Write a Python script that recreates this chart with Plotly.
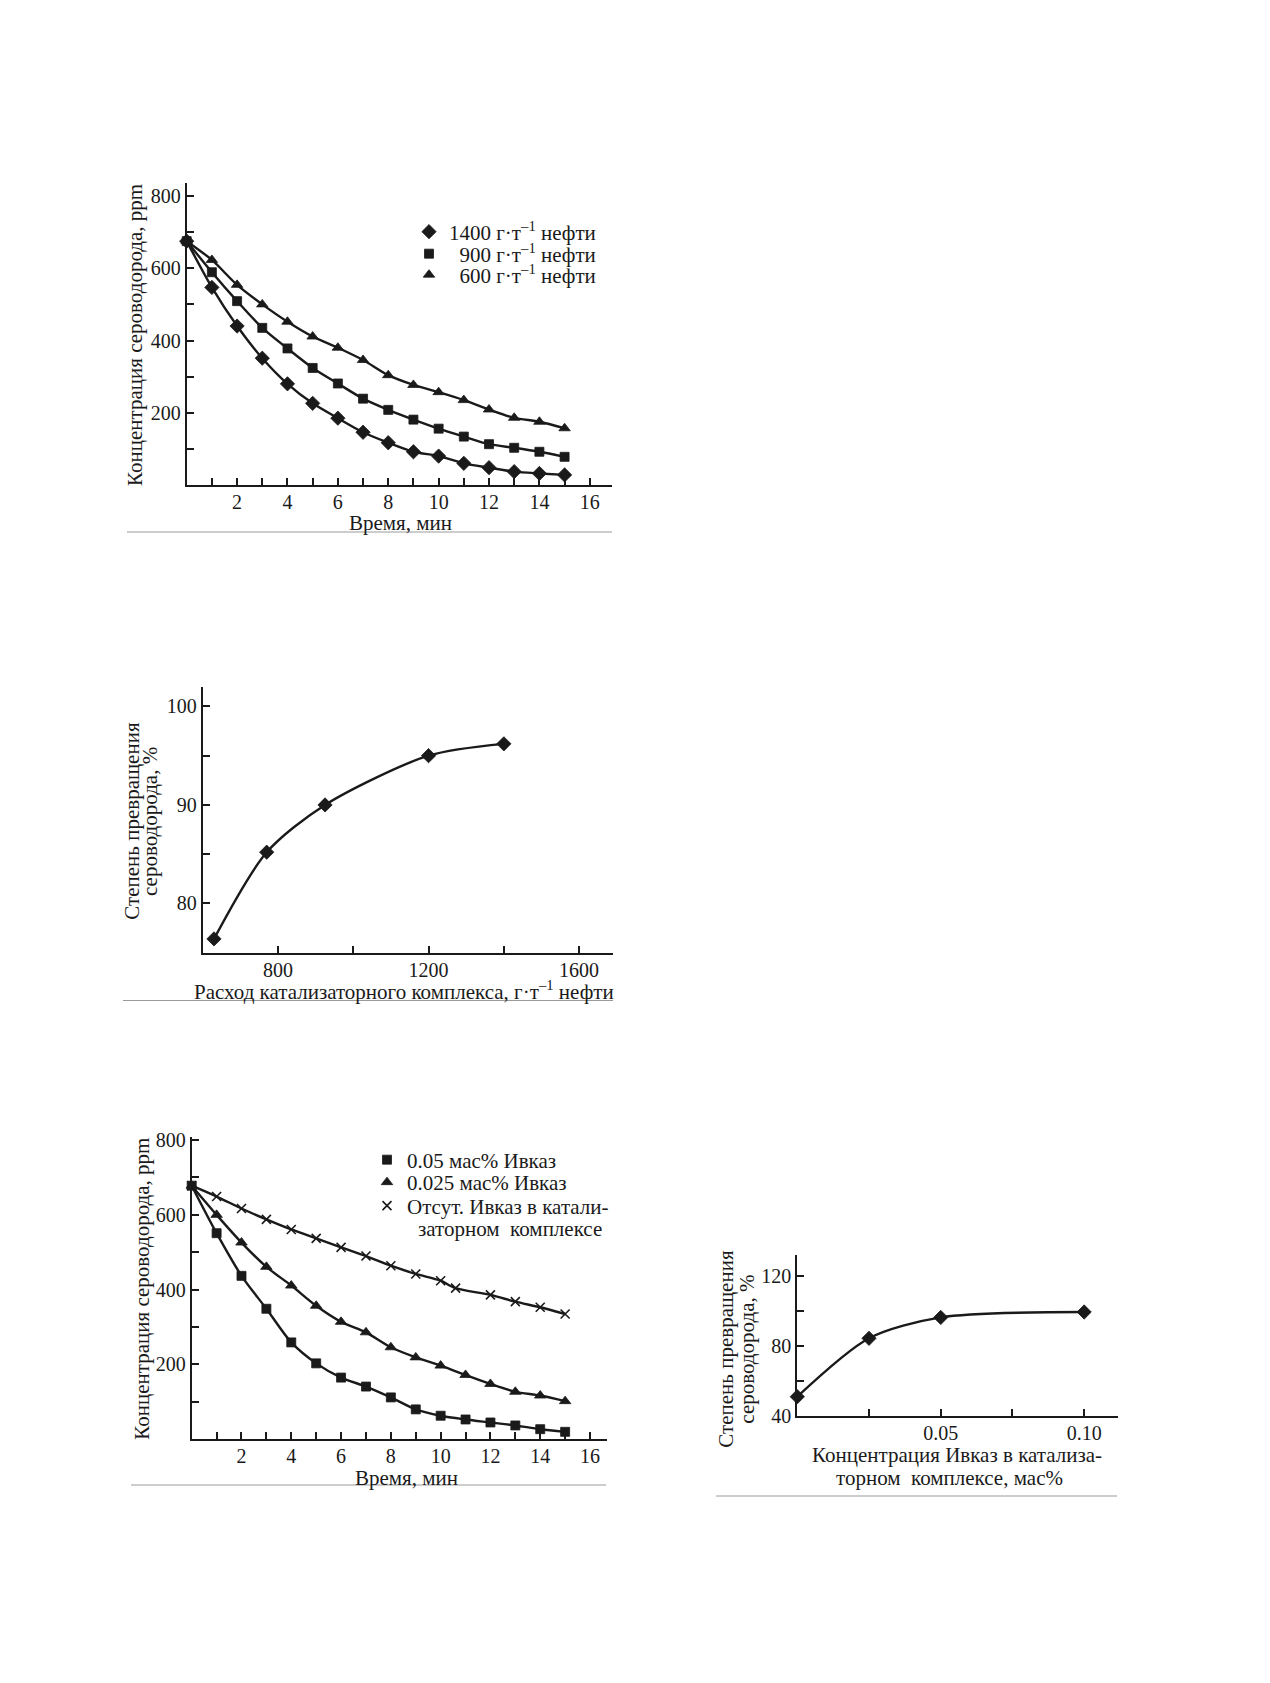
import plotly.graph_objects as go

# ------------------------------------------------------------------ data
# Chart 1: H2S concentration vs time at different catalyst dosages
time_min = [0, 1, 2, 3, 4, 5, 6, 7, 8, 9, 10, 11, 12, 13, 14, 15]
c_1400 = [675, 547, 440, 351, 280, 226, 185, 146, 117, 92, 80, 60, 48, 37, 32, 28]
c_900 = [675, 589, 509, 435, 378, 324, 281, 239, 208, 181, 156, 134, 113, 103, 92, 78]
c_600 = [675, 623, 554, 500, 452, 411, 380, 346, 304, 277, 257, 235, 209, 186, 175, 157]
names_1 = ["1400 г·т<sup>–1</sup> нефти",
           "\u2007900 г·т<sup>–1</sup> нефти",
           "\u2007600 г·т<sup>–1</sup> нефти"]

# Chart 2: conversion vs catalyst consumption
cat_rate = [630, 770, 925, 1200, 1400]
conv_rate = [76.4, 85.2, 90.0, 95.0, 96.2]

# Chart 3: H2S concentration vs time at different Ivkaz contents
time_iv = [0, 1, 2, 3, 4, 5, 6, 7, 8, 9, 10, 11, 12, 13, 14, 15]
c_iv_005 = [678, 551, 437, 349, 259, 203, 165, 141, 112, 80, 63, 53, 45, 37, 27, 20]
c_iv_0025 = [678, 600, 526, 461, 411, 357, 314, 286, 246, 219, 197, 172, 148, 127, 117, 102]
time_none = [0, 1, 2, 3, 4, 5, 6, 7, 8, 9, 10, 10.6, 12, 13, 14, 15]
c_none = [678, 649, 617, 588, 561, 537, 513, 490, 464, 442, 424, 404, 386, 368, 353, 335]
names_3 = ["0.05 мас% Ивказ",
           "0.025 мас% Ивказ",
           "Отсут. Ивказ в катали-"]
names_3_cont = "заторном\u00a0\u00a0комплексе"

# Chart 4: conversion vs Ivkaz concentration
iv_conc = [0.0, 0.025, 0.05, 0.10]
conv_iv = [51.0, 84.3, 96.2, 99.3]

# tick values / labels (major = labelled, minor = unlabelled marks)
t_ticks = [2, 4, 6, 8, 10, 12, 14, 16]
t_labels = ["2", "4", "6", "8", "10", "12", "14", "16"]
t_minor = [1, 3, 5, 7, 9, 11, 13, 15]
ppm_ticks = [200, 400, 600, 800]
ppm_labels = ["200", "400", "600", "800"]
ppm_minor = [100, 300, 500, 700]
rate_ticks = [800, 1200, 1600]
rate_labels = ["800", "1200", "1600"]
rate_minor = [1000, 1400]
conv_ticks = [80, 90, 100]
conv_labels = ["80", "90", "100"]
conv_minor = [85, 95]
iv_ticks = [0.05, 0.10]
iv_labels = ["0.05", "0.10"]
iv_minor = [0.025, 0.075]
conv4_ticks = [40, 80, 120]
conv4_labels = ["40", "80", "120"]
conv4_minor = [60, 100]

# ------------------------------------------------------------------ style
W, H = 1270, 1683
PAGE_OFF = 8          # default body margin of the html page
FONT = "Liberation Serif"
INK = "#1a1a1a"


def px_x(p):
    return (p - PAGE_OFF) / W


def px_y(p):
    return 1 - (p - PAGE_OFF) / H


# plot boxes in page pixels: (left, right, top, bottom)
BOX1 = (186.7, 611.7, 183, 485)
BOX2 = (202.7, 613, 686.7, 952.7)
BOX3 = (191.7, 606.7, 1136.7, 1439.3)
BOX4 = (797.3, 1118, 1255, 1416)


def axes(box, xr, yr, xt, xl, xm, yt, yl, ym, n):
    l, r, t, b = box
    sx = "" if n == 1 else str(n)
    common = dict(showline=True, linecolor=INK, linewidth=2, ticks="inside",
                  ticklen=7, tickwidth=2, tickcolor=INK, showgrid=False,
                  zeroline=False, mirror=False, automargin=False,
                  tickfont=dict(family=FONT, size=20, color=INK))

    def minor(vals):
        return dict(tickvals=vals, ticks="inside", ticklen=7, tickwidth=2,
                    tickcolor=INK, showgrid=False)

    xa = dict(common, domain=[px_x(l), px_x(r)], range=xr, tickmode="array",
              tickvals=xt, ticktext=xl, minor=minor(xm), anchor="y" + sx,
              ticklabelstandoff=-2)
    ya = dict(common, domain=[px_y(b), px_y(t)], range=yr, tickmode="array",
              tickvals=yt, ticktext=yl, minor=minor(ym), anchor="x" + sx)
    return {"xaxis" + sx: xa, "yaxis" + sx: ya}


fig = go.Figure()


def add_series(x, y, symbol, size, n, name=None, legend=None):
    sx = "" if n == 1 else str(n)
    fig.add_trace(go.Scatter(x=x, y=y, mode="lines",
                             line=dict(color=INK, width=2.4, shape="spline", smoothing=0.8),
                             xaxis="x" + sx, yaxis="y" + sx, showlegend=False,
                             cliponaxis=False, hoverinfo="skip"))
    fig.add_trace(go.Scatter(x=x, y=y, mode="markers",
                             marker=dict(symbol=symbol, size=size, color=INK,
                                         line=dict(width=0.8 if "x" not in symbol else 1.6, color=INK)),
                             xaxis="x" + sx, yaxis="y" + sx,
                             showlegend=name is not None, name=name or "",
                             legend=legend or "legend", cliponaxis=False))


# chart 1
add_series(time_min, c_1400, "diamond", 11, 1, names_1[0], "legend")
add_series(time_min, c_900, "square", 9, 1, names_1[1], "legend2")
add_series(time_min, c_600, "triangle-up", 10, 1, names_1[2], "legend3")
# chart 2
add_series(cat_rate, conv_rate, "diamond", 11, 2)
# chart 3
add_series(time_iv, c_iv_005, "square", 9, 3, names_3[0], "legend4")
add_series(time_iv, c_iv_0025, "triangle-up", 10, 3, names_3[1], "legend5")
add_series(time_none, c_none, "x-thin", 9, 3, names_3[2], "legend6")
# chart 4
add_series(iv_conc, conv_iv, "diamond", 11, 4)


def leg(xpx, ypx):
    return dict(x=px_x(xpx), y=px_y(ypx), xanchor="left", yanchor="middle",
                bgcolor="rgba(0,0,0,0)", itemwidth=30, borderwidth=0,
                font=dict(family=FONT, size=21, color=INK))


layout = dict(width=W, height=H, autosize=False,
              margin=dict(l=0, r=0, t=0, b=0, pad=0, autoexpand=False),
              paper_bgcolor="white", plot_bgcolor="white",
              font=dict(family=FONT, color=INK, size=20),
              legend=leg(409, 232), legend2=leg(409, 254), legend3=leg(409, 275),
              legend4=leg(367, 1160), legend5=leg(367, 1182.5), legend6=leg(367, 1206))
layout.update(axes(BOX1, [0, 16.87], [0, 836], t_ticks, t_labels, t_minor,
                   ppm_ticks, ppm_labels, ppm_minor, 1))
layout.update(axes(BOX2, [600, 1690], [75, 102], rate_ticks, rate_labels, rate_minor,
                   conv_ticks, conv_labels, conv_minor, 2))
layout.update(axes(BOX3, [0, 16.67], [0, 809], t_ticks, t_labels, t_minor,
                   ppm_ticks, ppm_labels, ppm_minor, 3))
layout.update(axes(BOX4, [0, 0.1118], [40, 131.8], iv_ticks, iv_labels, iv_minor,
                   conv4_ticks, conv4_labels, conv4_minor, 4))
fig.update_layout(**layout)


def label(text, x, y, angle=0, size=21, anchor="center"):
    fig.add_annotation(text=text, x=px_x(x), y=px_y(y), xref="paper", yref="paper",
                       showarrow=False, textangle=angle, xanchor=anchor, yanchor="middle",
                       font=dict(family=FONT, size=size, color=INK))


# axis titles
label("Концентрация сероводорода, ppm", 135, 335, -90)
label("Время, мин", 400, 523)
label("Степень превращения", 131.7, 821, -90)
label("сероводорода, %", 150, 822, -90)
label("Расход катализаторного комплекса, г·т<sup>–1</sup> нефти", 404, 990)
label("Концентрация сероводорода, ppm", 141.7, 1289, -90)
label("Время, мин", 407, 1478)
label("Степень превращения", 725.7, 1349, -90)
label("сероводорода, %", 746.7, 1349, -90)
label("Концентрация Ивказ в катализа-", 957, 1455)
label("торном\u00a0\u00a0комплексе, мас%", 950, 1478)
# continuation line of the last legend entry of chart 3
label(names_3_cont, 416, 1228.5, size=21, anchor="left")

# separator rules under each chart
for (x0, x1, yy) in [(127, 612, 532), (123, 613, 1000.5), (131, 606, 1485), (716, 1117, 1496)]:
    fig.add_shape(type="line", xref="paper", yref="paper",
                  x0=px_x(x0), x1=px_x(x1), y0=px_y(yy), y1=px_y(yy),
                  line=dict(color="#9a9a9a", width=1))

fig.write_html("out.html")
